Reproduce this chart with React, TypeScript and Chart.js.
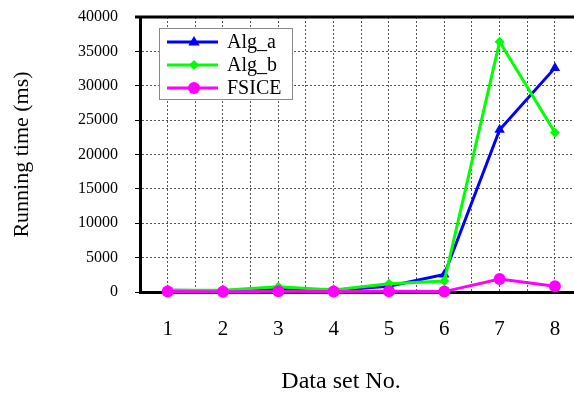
import React, { useEffect, useRef } from "react";
import { Chart, registerables } from "chart.js";

Chart.register(...registerables);

const categories = [1, 2, 3, 4, 5, 6, 7, 8];
const algA = [250, 200, 350, 250, 850, 2550, 23600, 32600];
const algB = [250, 250, 750, 300, 1200, 1600, 36400, 23200];
const fsice = [60, 50, 100, 80, 100, 60, 1900, 850];
const seriesNames = ["Alg_a", "Alg_b", "FSICE"];
const yTicks = [0, 5000, 10000, 15000, 20000, 25000, 30000, 35000, 40000];

const FONT = "'Liberation Serif', 'Times New Roman', serif";
const COLORS = ["#0000FF", "#00FF00", "#FF00FF"];
const MARKERS = ["triangle", "rectRot", "circle"];

Chart.defaults.font.family = FONT;

function drawMarker(ctx: CanvasRenderingContext2D, kind: string, x: number, y: number, r: number, color: string) {
  ctx.save();
  ctx.fillStyle = color;
  ctx.beginPath();
  if (kind === "triangle") {
    ctx.moveTo(x, y - r);
    ctx.lineTo(x + r * 0.95, y + r * 0.6);
    ctx.lineTo(x - r * 0.95, y + r * 0.6);
    ctx.closePath();
  } else if (kind === "rectRot") {
    ctx.moveTo(x, y - r);
    ctx.lineTo(x + r, y);
    ctx.lineTo(x, y + r);
    ctx.lineTo(x - r, y);
    ctx.closePath();
  } else {
    ctx.arc(x, y, r, 0, Math.PI * 2);
  }
  ctx.fill();
  ctx.restore();
}

const framePlugin = {
  id: "framePlugin",
  afterDatasetsDraw(chart: any) {
    const { ctx, chartArea } = chart;
    ctx.save();
    // top frame line
    ctx.strokeStyle = "#000";
    ctx.lineWidth = 3;
    ctx.beginPath();
    ctx.moveTo(chartArea.left - 5, chartArea.top);
    ctx.lineTo(chartArea.right + 20, chartArea.top);
    ctx.stroke();

    // legend box
    const bx = 159.5, by = 28.5, bw = 133, bh = 71;
    ctx.fillStyle = "#fff";
    ctx.fillRect(bx, by, bw, bh);
    ctx.strokeStyle = "#888";
    ctx.lineWidth = 1;
    ctx.strokeRect(bx, by, bw, bh);
    const rows = [42, 65, 88];
    const radii = [6, 5, 6];
    ctx.font = `20px ${FONT}`;
    ctx.textBaseline = "middle";
    ctx.textAlign = "left";
    seriesNames.forEach((name, i) => {
      const y = rows[i];
      ctx.strokeStyle = COLORS[i];
      ctx.lineWidth = 3;
      ctx.beginPath();
      ctx.moveTo(167, y);
      ctx.lineTo(218, y);
      ctx.stroke();
      drawMarker(ctx, MARKERS[i], 194, y, radii[i], COLORS[i]);
      ctx.fillStyle = "#000";
      ctx.fillText(name, 227, y + 1);
    });

    // x axis title
    ctx.font = `24px ${FONT}`;
    ctx.textAlign = "center";
    ctx.fillStyle = "#000";
    ctx.fillText("Data set No.", 341, 382);
    ctx.restore();
  },
};

function zeroPad(scale: any) {
  scale.paddingTop = 0;
  scale.paddingBottom = 0;
  scale.paddingLeft = 0;
  scale.paddingRight = 0;
}

export default function App() {
  const ref = useRef<HTMLCanvasElement | null>(null);
  useEffect(() => {
    if (!ref.current) return;
    const mk = (data: number[], i: number, order: number, radius: number) => ({
      label: seriesNames[i],
      data: data.map((v, k) => ({ x: categories[k], y: v })),
      borderColor: COLORS[i],
      backgroundColor: COLORS[i],
      borderWidth: 3,
      pointStyle: MARKERS[i] as any,
      pointRadius: radius,
      pointBorderWidth: 0,
      pointBackgroundColor: COLORS[i],
      tension: 0,
      clip: false as any,
      order,
    });
    const chart = new Chart(ref.current, {
      type: "line",
      data: {
        datasets: [mk(algA, 0, 2, 6), mk(algB, 1, 1, 5), mk(fsice, 2, 0, 6)],
      },
      plugins: [framePlugin],
      options: {
        animation: false,
        responsive: false,
        events: [],
        layout: { padding: { left: 0, top: 17, right: 17.4, bottom: 0 } },
        font: { family: FONT },
        plugins: { legend: { display: false }, tooltip: { enabled: false } },
        scales: {
          x: {
            type: "linear",
            min: 0.5,
            max: 8.5,
            afterFit(scale: any) {
              scale.height = 102;
              zeroPad(scale);
            },
            afterBuildTicks(scale: any) {
              const t: any[] = [];
              for (let v = 0.5; v <= 8.5001; v += 0.5) t.push({ value: v });
              scale.ticks = t;
            },
            ticks: {
              font: { family: FONT, size: 21 },
              color: "#000",
              padding: 25,
              maxRotation: 0,
              autoSkip: false,
              callback: (v: any) => (Number.isInteger(v) && categories.includes(v) ? String(v) : ""),
            },
            grid: {
              color: "#555",
              lineWidth: 1,
              drawTicks: false,
            },
            border: { display: true, color: "#000", width: 3, dash: [2, 2] },
            title: { display: false },
          },
          y: {
            min: 0,
            max: 40000,
            afterFit(scale: any) {
              scale.width = 140;
              zeroPad(scale);
            },
            afterBuildTicks(scale: any) {
              scale.ticks = yTicks.map((v) => ({ value: v }));
            },
            ticks: {
              font: { family: FONT, size: 16 },
              color: "#000",
              padding: 17,
              callback: (v: any) => String(v),
            },
            grid: {
              color: "#555",
              lineWidth: 1,
              tickLength: 5,
              tickColor: "#000",
              tickWidth: 1,
              tickBorderDash: [],
            },
            border: { display: true, color: "#000", width: 3, dash: [2, 2] },
            title: {
              display: true,
              text: "Running time (ms)",
              font: { family: FONT, size: 22, lineHeight: 1.2 },
              color: "#000",
              padding: { top: 9, bottom: 0 },
            },
          },
        },
      } as any,
    });
    return () => chart.destroy();
  }, []);
  return (
    <div style={{ position: "fixed", left: 0, top: 0, width: 574, height: 394, overflow: "hidden", background: "#fff" }}>
      <canvas ref={ref} width={600} height={394} style={{ display: "block", width: 600, height: 394 }} />
    </div>
  );
}
